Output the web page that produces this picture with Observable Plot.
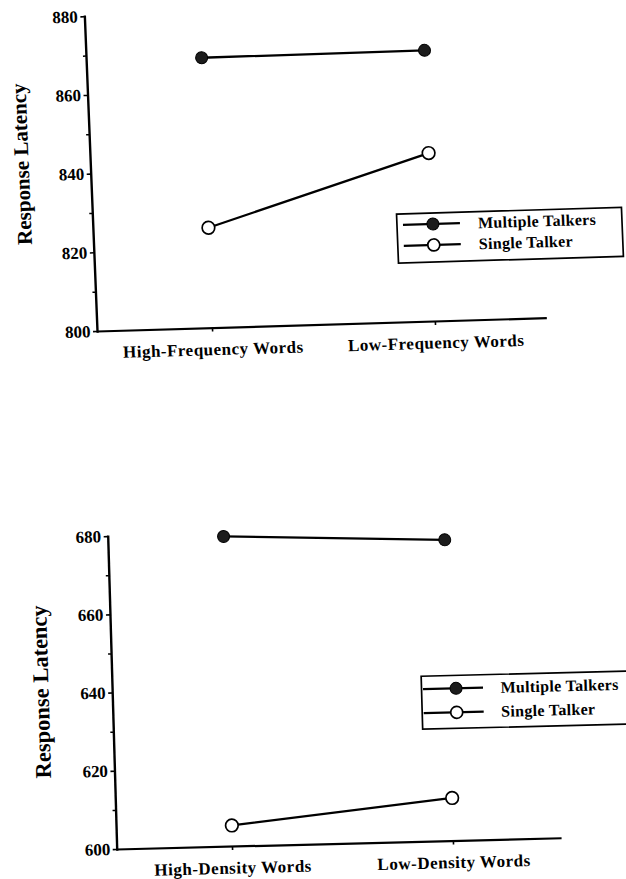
<!DOCTYPE html>
<html><head><meta charset="utf-8">
<script src="https://cdn.jsdelivr.net/npm/d3@7"></script>
<script src="https://cdn.jsdelivr.net/npm/@observablehq/plot@0.6"></script>
<style>
html,body{margin:0;padding:0;background:#fff;}
#page{position:relative;width:626px;height:879px;overflow:hidden;background:#fff;}
.panel{position:absolute;left:0;width:626px;}
.legend{position:absolute;overflow:visible;}
</style></head><body><div id="page"></div>
<script>
const seriesNames = ["Multiple Talkers", "Single Talker"];
const yTitle = "Response Latency";

const freqCategories = ["High-Frequency Words", "Low-Frequency Words"];
const freqMultiple = [868.7, 868.9];
const freqSingle = [825.5, 842.8];
const freqTicks = [800, 820, 840, 860, 880];
const freqMinorTicks = [810, 830, 850, 870];

const densCategories = ["High-Density Words", "Low-Density Words"];
const densMultiple = [679.3, 677.0];
const densSingle = [605.4, 611.0];
const densTicks = [600, 620, 640, 660, 680];
const densMinorTicks = [610, 630, 650, 670];

function rows(cats, mult, single) {
  return cats.flatMap((c, i) => [
    {cat: c, series: seriesNames[0], value: mult[i]},
    {cat: c, series: seriesNames[1], value: single[i]}
  ]);
}

const FONT = "'Liberation Serif','Times New Roman',serif";

function panel(cfg) {
  const data = rows(cfg.cats, cfg.mult, cfg.single);
  const div = document.createElement("div");
  div.className = "panel";
  div.style.top = cfg.top + "px";
  div.style.height = cfg.height + "px";
  div.style.transformOrigin = cfg.origin;
  div.style.transform = cfg.transform;
  document.getElementById("page").appendChild(div);

  const svg = Plot.plot({
    width: 626,
    height: cfg.height,
    marginLeft: cfg.marginLeft,
    marginRight: cfg.marginRight,
    marginTop: cfg.marginTop,
    marginBottom: cfg.marginBottom,
    style: {fontFamily: FONT, fontWeight: "bold", fontSize: "17px", color: "black", background: "transparent", overflow: "visible"},
    x: {type: "point", domain: cfg.cats, range: cfg.xRange, padding: 0},
    y: {domain: [cfg.ticks[0], cfg.ticks[cfg.ticks.length - 1]]},
    marks: [
      Plot.frame({anchor: "left", stroke: "black", strokeWidth: 2.4}),
      Plot.ruleY([cfg.ticks[0]], {stroke: "black", strokeWidth: 2.2}),
      Plot.axisY({ticks: cfg.ticks, tickSize: 4, tickPadding: 3, tickFormat: d => String(d), fontSize: 17,
        label: yTitle, labelAnchor: "center", labelArrow: false, labelOffset: cfg.labelOffset, strokeWidth: 1.6}),
      Plot.axisY({ticks: cfg.minor, tickSize: 3, tickFormat: () => "", label: null, strokeWidth: 1.5}),
      Plot.axisX({tickSize: 4, tickPadding: 11, fontSize: 17, label: null, strokeWidth: 1.6}),
      Plot.line(data, {x: "cat", y: "value", z: "series", stroke: "black", strokeWidth: 2.3}),
      Plot.dot(data, {filter: d => d.series === seriesNames[0], x: "cat", y: "value", r: 6, fill: "#1c1c1c", stroke: "black", strokeWidth: 1}),
      Plot.dot(data, {filter: d => d.series === seriesNames[1], x: "cat", y: "value", r: 6.3, fill: "white", stroke: "black", strokeWidth: 1.7})
    ]
  });
  div.appendChild(svg);
  const s = d3.select(svg);
  s.selectAll('[aria-label="y-axis label"] text')
    .style("font-size", cfg.titleSize + "px")
    .attr("dx", cfg.titleShift);
  s.selectAll('[aria-label="x-axis tick label"] text').style("letter-spacing", "0.5px");

  // legend
  const L = cfg.legend;
  const lg = d3.select(div).append("svg")
    .attr("class", "legend")
    .style("left", L.left + "px").style("top", L.top + "px")
    .attr("width", L.width + 4).attr("height", L.height + 4);
  lg.append("rect").attr("x", 1).attr("y", 1).attr("width", L.width).attr("height", L.height)
    .attr("fill", "white").attr("stroke", "black").attr("stroke-width", 1.7);
  seriesNames.forEach((name, i) => {
    const y = 1 + L.rows[i];
    lg.append("line").attr("x1", 1 + L.line[0]).attr("x2", 1 + L.line[1]).attr("y1", y).attr("y2", y)
      .attr("stroke", "black").attr("stroke-width", 2.2);
    lg.append("circle").attr("cx", 1 + L.marker).attr("cy", y).attr("r", 6)
      .attr("fill", i === 0 ? "#1c1c1c" : "white").attr("stroke", "black").attr("stroke-width", i === 0 ? 1 : 1.7);
    lg.append("text").attr("x", 1 + L.text).attr("y", y).attr("dy", "0.35em")
      .attr("font-family", FONT).attr("font-weight", "bold").attr("font-size", 16)
      .style("letter-spacing", "0.3px").text(name);
  });
}

panel({
  cats: freqCategories, mult: freqMultiple, single: freqSingle,
  ticks: freqTicks, minor: freqMinorTicks,
  top: 0, height: 380, marginLeft: 97, marginRight: 79, marginTop: 16, marginBottom: 49,
  xRange: [212, 435.3], labelOffset: 77, titleSize: 21, titleShift: 12,
  origin: "97px 331px", transform: "rotate(-1.7deg) skewX(0.6deg)",
  legend: {left: 400, top: 222, width: 225, height: 49, rows: [11, 32], line: [6, 63], marker: 36, text: 81}
});

panel({
  cats: densCategories, mult: densMultiple, single: densSingle,
  ticks: densTicks, minor: densMinorTicks,
  top: 480, height: 410, marginLeft: 116.7, marginRight: 64.3, marginTop: 56, marginBottom: 41,
  xRange: [231.7, 453.3], labelOffset: 80, titleSize: 22.5, titleShift: 3,
  origin: "116.7px 369px", transform: "rotate(-1.45deg) skewX(0.2deg)",
  legend: {left: 424.6, top: 203, width: 222, height: 53, rows: [13, 37], line: [1.5, 61.5], marker: 34.5, text: 79}
});
</script></body></html>
